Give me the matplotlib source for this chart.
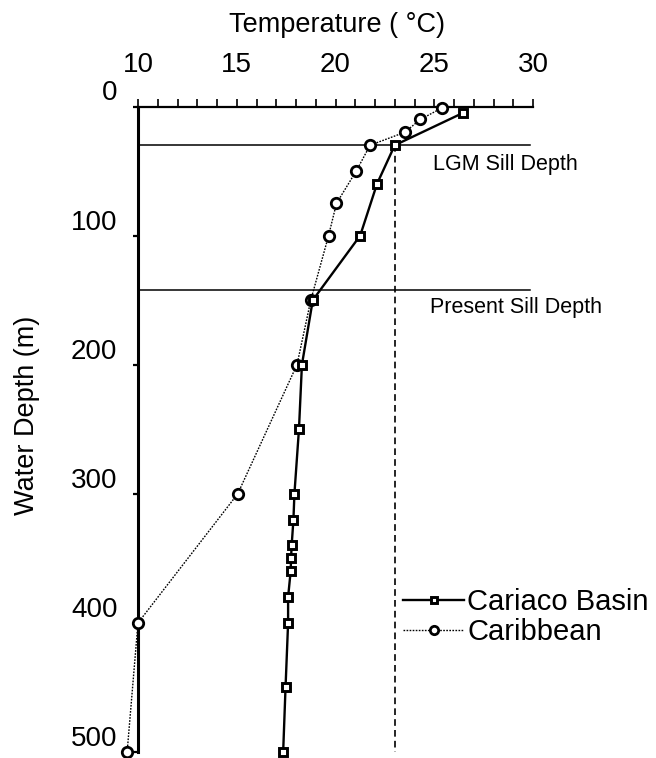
import matplotlib.pyplot as plt
import matplotlib.transforms as mtransforms
from matplotlib.ticker import MultipleLocator

plt.rcParams['font.family'] = ['Liberation Sans', 'DejaVu Sans']

# Cariaco Basin profile (depth m, temperature C)
cariaco_depth = [5, 30, 60, 100, 150, 200, 250, 300, 320, 340, 350, 360, 380, 400, 450, 500]
cariaco_temp = [26.45, 23.0, 22.1, 21.25, 18.85, 18.3, 18.15, 17.92, 17.87, 17.78, 17.75, 17.73, 17.6, 17.6, 17.47, 17.35]

# open Caribbean profile
carib_depth = [1, 10, 20, 30, 50, 75, 100, 150, 200, 300, 400, 500]
carib_temp = [25.4, 24.3, 23.5, 21.75, 21.05, 20.05, 19.65, 18.75, 18.05, 15.05, 10.0, 9.45]

lgm_sill = 30
present_sill = 142
lgm_sill_temp = 23.0


def plot_profiles():
    fig = plt.figure(figsize=(6.56, 7.58), dpi=100)
    ax = fig.add_axes([138/656, 1 - 752/758, 395/656, (752 - 106.5)/758])

    ax.plot(cariaco_temp, cariaco_depth, color='black', lw=1.7, marker='s',
            ms=5.5, mfc='white', mec='black', mew=2.1, label='Cariaco Basin',
            clip_on=False, zorder=4)
    ax.plot(carib_temp, carib_depth, color='black', lw=1.0, ls=(0, (1.2, 1.0)),
            marker='o', ms=7.5, mfc='white', mec='black', mew=2.0,
            label='Caribbean', clip_on=False, zorder=3)

    # sill depths and LGM temperature
    ax.plot([10, 29.85], [lgm_sill, lgm_sill], color='black', lw=1.1, zorder=2)
    ax.plot([10, 29.85], [present_sill, present_sill], color='black', lw=1.1, zorder=2)
    ax.plot([lgm_sill_temp, lgm_sill_temp], [lgm_sill, 500], color='black',
            lw=1.2, ls=(0, (4, 2.5)), zorder=2)
    ax.text(24.95, 45, 'LGM Sill Depth', fontsize=15.5, va='center', ha='left')
    ax.text(24.8, 156, 'Present Sill Depth', fontsize=15.5, va='center', ha='left')

    ax.set_xlim(10, 30)
    ax.set_ylim(500, 0)

    ax.xaxis.tick_top()
    ax.xaxis.set_label_position('top')
    ax.set_xticks([10, 15, 20, 25, 30])
    ax.xaxis.set_minor_locator(MultipleLocator(1))
    ax.tick_params(axis='x', which='both', direction='out', length=5.8,
                   width=1.2, pad=15, labelsize=20)
    ax.set_yticks([0, 100, 200, 300, 400, 500])
    ax.tick_params(axis='y', direction='out', length=3.8, width=1.6,
                   pad=11, labelsize=20)

    shift = mtransforms.ScaledTranslation(0, 16/100, fig.dpi_scale_trans)
    for lab in ax.get_yticklabels():
        lab.set_transform(lab.get_transform() + shift)

    ax.spines['right'].set_visible(False)
    ax.spines['bottom'].set_visible(False)
    ax.spines['top'].set_linewidth(1.6)
    ax.spines['left'].set_linewidth(2.2)

    fig.text(337/656, 1 - 25/758, 'Temperature ( °C)', fontsize=19.5,
             ha='center', va='center')
    fig.text(27/656, 1 - 415/758, 'Water Depth (m)', fontsize=19.5,
             ha='center', va='center', rotation=90)

    ax.legend(loc='center left', bbox_to_anchor=(403/656, 1 - 617/758),
              bbox_transform=fig.transFigure, frameon=False, fontsize=21,
              handlelength=2.1, handletextpad=0.1, labelspacing=0.05,
              borderpad=0, borderaxespad=0, markerscale=0.8)

    fig.savefig('out.png', dpi=100)


if __name__ == "__main__":
    plot_profiles()
